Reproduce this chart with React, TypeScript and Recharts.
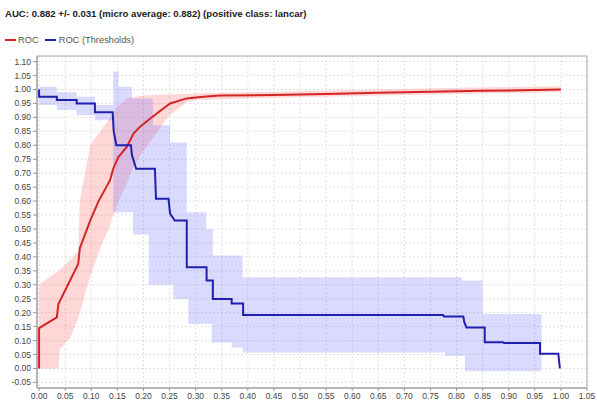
import React from 'react';
import { ComposedChart, Line, Area, XAxis, YAxis, CartesianGrid, ReferenceArea } from 'recharts';

const FONT = '"Liberation Sans", Arial, sans-serif';

// ROC curve (red)
const rocX = [0, 0, 0.034, 0.037, 0.075, 0.078, 0.098, 0.114, 0.136, 0.142, 0.152, 0.168, 0.181, 0.193, 0.213, 0.238, 0.251, 0.283, 0.314, 0.347, 0.45, 0.55, 0.65, 0.75, 0.85, 0.95, 1.0];
const rocY = [0, 0.145, 0.183, 0.231, 0.375, 0.43, 0.53, 0.6, 0.675, 0.716, 0.758, 0.794, 0.842, 0.866, 0.896, 0.932, 0.95, 0.968, 0.974, 0.978, 0.98, 0.984, 0.988, 0.992, 0.995, 0.998, 1.0];

// ROC band (std dev)
const rocBandX = [0, 0.037, 0.04, 0.06, 0.075, 0.078, 0.098, 0.117, 0.133, 0.15, 0.168, 0.18, 0.2, 0.25, 0.283, 0.3, 0.4, 0.5, 0.6, 0.7, 0.8, 0.9, 1.0];
const rocBandLow = [0, 0, 0.07, 0.11, 0.18, 0.2, 0.33, 0.43, 0.5, 0.59, 0.66, 0.72, 0.78, 0.908, 0.955, 0.962, 0.968, 0.972, 0.976, 0.98, 0.984, 0.987, 0.99];
const rocBandHigh = [0.3, 0.35, 0.355, 0.39, 0.42, 0.6, 0.8, 0.85, 0.89, 0.94, 0.968, 0.972, 0.978, 0.982, 0.984, 0.986, 0.99, 0.994, 0.998, 1.002, 1.006, 1.009, 1.012];

// ROC (Thresholds) curve (blue)
const thrX = [0, 0, 0.034, 0.034, 0.072, 0.072, 0.107, 0.107, 0.141, 0.143, 0.148, 0.176, 0.178, 0.186, 0.222, 0.224, 0.248, 0.251, 0.26, 0.283, 0.283, 0.321, 0.321, 0.333, 0.333, 0.369, 0.369, 0.391, 0.391, 0.774, 0.776, 0.813, 0.815, 0.819, 0.854, 0.854, 0.889, 0.891, 0.96, 0.96, 0.995, 0.998];
const thrY = [1.0, 0.974, 0.974, 0.962, 0.962, 0.95, 0.95, 0.918, 0.918, 0.85, 0.8, 0.8, 0.764, 0.716, 0.716, 0.608, 0.608, 0.555, 0.53, 0.53, 0.363, 0.363, 0.315, 0.315, 0.249, 0.249, 0.233, 0.233, 0.192, 0.192, 0.186, 0.186, 0.165, 0.147, 0.147, 0.094, 0.094, 0.091, 0.091, 0.053, 0.053, 0];

// Thresholds band (step)
const thrBandX = [0, 0.034, 0.072, 0.107, 0.142, 0.152, 0.178, 0.18, 0.21, 0.218, 0.251, 0.257, 0.283, 0.286, 0.32, 0.331, 0.333, 0.369, 0.39, 0.778, 0.81, 0.816, 0.85, 0.963];
const thrBandHigh = [1.01, 0.99, 0.974, 0.944, 1.064, 1.01, 0.968, 0.968, 0.968, 0.872, 0.81, 0.81, 0.56, 0.56, 0.5, 0.5, 0.405, 0.405, 0.327, 0.327, 0.315, 0.315, 0.195, 0.195];
const thrBandLow = [0.944, 0.926, 0.908, 0.89, 0.56, 0.56, 0.56, 0.48, 0.3, 0.3, 0.3, 0.249, 0.249, 0.159, 0.159, 0.093, 0.093, 0.075, 0.057, 0.045, 0.045, -0.01, -0.01, -0.01];

const xTicks = [0, 0.05, 0.1, 0.15, 0.2, 0.25, 0.3, 0.35, 0.4, 0.45, 0.5, 0.55, 0.6, 0.65, 0.7, 0.75, 0.8, 0.85, 0.9, 0.95, 1.0, 1.05];
const yTicks = [-0.05, 0, 0.05, 0.1, 0.15, 0.2, 0.25, 0.3, 0.35, 0.4, 0.45, 0.5, 0.55, 0.6, 0.65, 0.7, 0.75, 0.8, 0.85, 0.9, 0.95, 1.0, 1.05, 1.1];

const rocData = rocX.map((x, i) => ({ x, y: rocY[i] }));
const rocBand = rocBandX.map((x, i) => ({ x, band: [rocBandLow[i], rocBandHigh[i]] }));
const thrData = thrX.map((x, i) => ({ x, y: thrY[i] }));
const thrBand = thrBandX.map((x, i) => ({ x, band: [thrBandLow[i], thrBandHigh[i]] }));

const tickStyle = { fontSize: 8.5, fill: '#444', fontFamily: FONT };

export default function App() {
  return (
    <div style={{ position: 'absolute', left: 0, top: 0, width: 597, height: 403, background: '#fff', fontFamily: FONT }}>
      <div style={{ position: 'absolute', left: 5, top: 8, fontSize: 9.6, fontWeight: 'bold', color: '#222', whiteSpace: 'nowrap' }}>
        AUC: 0.882 +/- 0.031 (micro average: 0.882) (positive class: lancar)
      </div>
      <div style={{ position: 'absolute', left: 5, top: 35, fontSize: 9.3, color: '#555', display: 'flex', alignItems: 'center', whiteSpace: 'nowrap' }}>
        <span style={{ display: 'inline-block', width: 11, height: 2, background: '#d42424', marginRight: 2 }} />
        <span>ROC</span>
        <span style={{ display: 'inline-block', width: 11, height: 2, background: '#2020b0', marginLeft: 6, marginRight: 3 }} />
        <span>ROC (Thresholds)</span>
      </div>
      <ComposedChart width={597} height={403} margin={{ top: 56, right: 10, bottom: 0, left: 0 }}>
        <CartesianGrid stroke="#e0e0e0" strokeDasharray="2 2" />
        <XAxis
          type="number"
          dataKey="x"
          domain={[-0.004, 1.05]}
          ticks={xTicks}
          tickFormatter={(v: number) => v.toFixed(2)}
          tick={tickStyle}
          tickSize={3}
          tickMargin={2}
          height={15}
          stroke="#999"
          interval={0}
          allowDataOverflow
        />
        <YAxis
          type="number"
          domain={[-0.07, 1.12]}
          ticks={yTicks}
          tickFormatter={(v: number) => v.toFixed(2)}
          tick={tickStyle}
          tickSize={4}
          tickMargin={2}
          width={37}
          stroke="#999"
          interval={0}
          allowDataOverflow
        />
        <Area data={rocBand} dataKey="band" type="linear" stroke="none" fill="#ff7070" fillOpacity={0.28} isAnimationActive={false} dot={false} activeDot={false} />
        <Area data={thrBand} dataKey="band" type="stepAfter" stroke="none" fill="#6b6bff" fillOpacity={0.25} isAnimationActive={false} dot={false} activeDot={false} />
        <Line data={rocData} dataKey="y" type="linear" stroke="#d42424" strokeWidth={2} dot={false} activeDot={false} isAnimationActive={false} />
        <Line data={thrData} dataKey="y" type="linear" stroke="#2020b0" strokeWidth={2} dot={false} activeDot={false} isAnimationActive={false} />
        <ReferenceArea x1={-0.004} x2={1.05} y1={-0.07} y2={1.12} fill="none" stroke="#aaa" strokeWidth={1} />
      </ComposedChart>
    </div>
  );
}
